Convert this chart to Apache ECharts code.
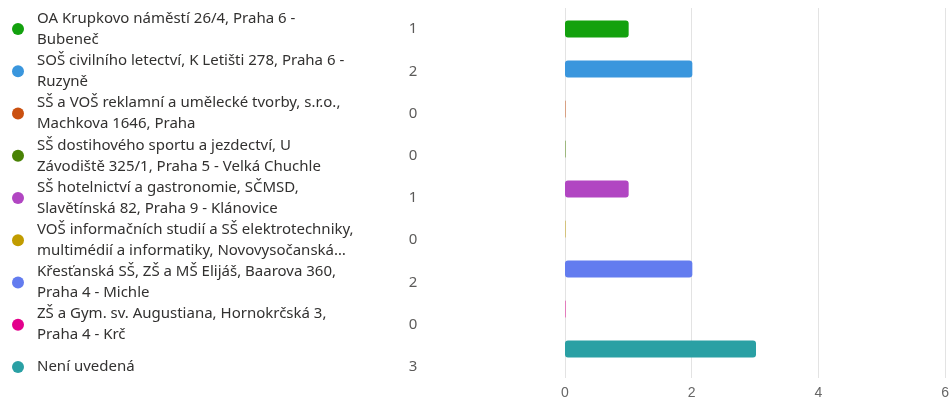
<!DOCTYPE html>
<html>
<head>
<meta charset="utf-8">
<script src="https://cdn.jsdelivr.net/npm/echarts@6/dist/echarts.min.js"></script>
<style>html,body{margin:0;padding:0;background:#fff}#c{width:952px;height:401px}</style>
</head>
<body>
<div id="c"></div>
<script>
const categories = [
  "OA Krupkovo náměstí 26/4, Praha 6 -\nBubeneč",
  "SOŠ civilního letectví, K Letišti 278, Praha 6 -\nRuzyně",
  "SŠ a VOŠ reklamní a umělecké tvorby, s.r.o.,\nMachkova 1646, Praha",
  "SŠ dostihového sportu a jezdectví, U\nZávodiště 325/1, Praha 5 - Velká Chuchle",
  "SŠ hotelnictví a gastronomie, SČMSD,\nSlavětínská 82, Praha 9 - Klánovice",
  "VOŠ informačních studií a SŠ elektrotechniky,\nmultimédií a informatiky, Novovysočanská…",
  "Křesťanská SŠ, ZŠ a MŠ Elijáš, Baarova 360,\nPraha 4 - Michle",
  "ZŠ a Gym. sv. Augustiana, Hornokrčská 3,\nPraha 4 - Krč",
  "Není uvedená"
];
const values = [1, 2, 0, 0, 1, 0, 2, 0, 3];
const colors = ["#13A10E", "#3A96DD", "#CA5010", "#498205", "#B146C2", "#C19C00", "#637CEF", "#E3008C", "#2AA0A4"];
const xTicks = [0, 2, 4, 6];

const FONT = "Noto Sans";
const TEXT = "#323130";

const chart = echarts.init(document.getElementById('c'), null, {renderer: 'canvas'});
const idx = categories.map((_, i) => String(i));
const xMin = xTicks[0], xMax = xTicks[xTicks.length - 1], xStep = xTicks[1] - xTicks[0];

chart.setOption({
  animation: false,
  grid: [
    {left: 565, right: 5, top: 9, bottom: 32, containLabel: false},
    {left: 18, right: 539, top: 8, bottom: 13, containLabel: false},
    {left: 565, right: 5, top: 8, bottom: 23, containLabel: false}
  ],
  xAxis: [
    {gridIndex: 0, type: 'value', min: xMin, max: xMax, interval: xStep, show: false},
    {gridIndex: 1, type: 'category', data: ['dot', 'count'], boundaryGap: false, show: false},
    {
      gridIndex: 2, type: 'value', min: xMin, max: xMax, interval: xStep,
      axisLine: {show: false}, axisTick: {show: false},
      splitLine: {show: true, lineStyle: {color: '#e3e3e3', width: 1}},
      axisLabel: {color: '#666', fontSize: 14, fontFamily: 'Liberation Sans', margin: 8}
    }
  ],
  yAxis: [
    {gridIndex: 0, type: 'category', inverse: true, data: idx, show: false},
    {gridIndex: 1, type: 'category', inverse: true, data: idx, show: false},
    {gridIndex: 2, type: 'value', min: 0, max: 1, show: false}
  ],
  series: [
    {
      type: 'bar', xAxisIndex: 0, yAxisIndex: 0, z: 3,
      barWidth: 17, barMinHeight: 1,
      data: values.map((v, i) => ({
        value: v,
        itemStyle: {color: colors[i], opacity: v === 0 ? 0.45 : 1}
      })),
      itemStyle: {borderRadius: 3}
    },
    {
      type: 'scatter', xAxisIndex: 1, yAxisIndex: 1, symbol: 'circle', symbolSize: 12,
      data: categories.map((c, i) => ({
        value: ['dot', idx[i]], name: c, itemStyle: {color: colors[i], opacity: 1}
      })),
      label: {
        show: true, position: 'right', distance: 13,
        formatter: p => p.name,
        color: TEXT, fontSize: 15, fontFamily: FONT, lineHeight: 21, align: 'left'
      }
    },
    {
      type: 'scatter', xAxisIndex: 1, yAxisIndex: 1, symbolSize: 0,
      data: values.map((v, i) => ({value: ['count', idx[i]], name: String(v)})),
      label: {
        show: true, position: 'inside', formatter: p => p.name,
        color: TEXT, fontSize: 15, fontFamily: FONT
      }
    }
  ]
});
</script>
</body>
</html>
